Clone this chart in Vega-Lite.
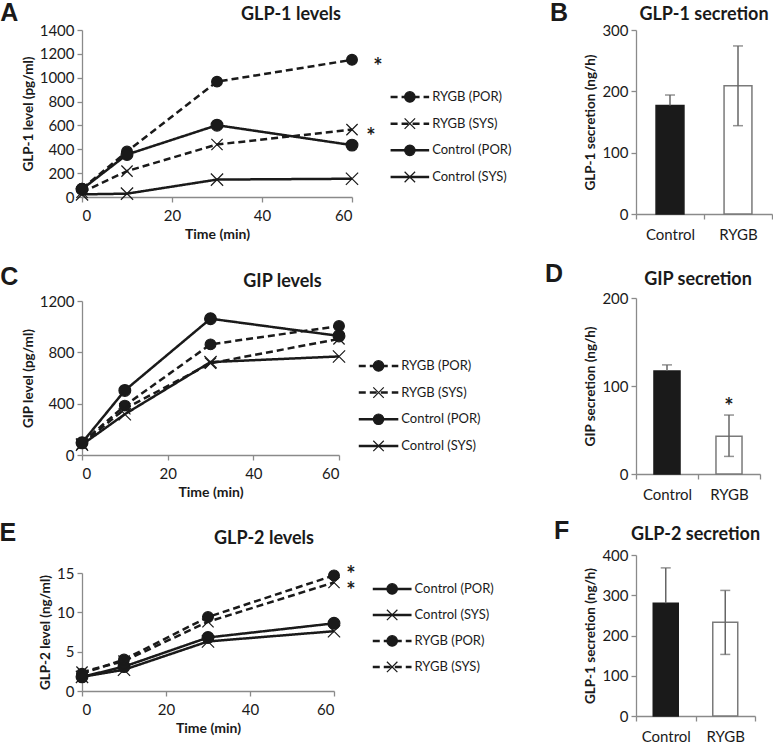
{
  "$schema": "https://vega.github.io/schema/vega-lite/v6.json",
  "padding": {"left": -1, "top": 1, "right": 0, "bottom": 0},
  "background": "white",
  "datasets": {
    "glp1": [
      {"series": "RYGB (POR)", "time": 0, "value": 70}, {"series": "RYGB (POR)", "time": 10, "value": 381}, {"series": "RYGB (POR)", "time": 30, "value": 967}, {"series": "RYGB (POR)", "time": 60, "value": 1150},
      {"series": "RYGB (SYS)", "time": 0, "value": 40}, {"series": "RYGB (SYS)", "time": 10, "value": 217}, {"series": "RYGB (SYS)", "time": 30, "value": 440}, {"series": "RYGB (SYS)", "time": 60, "value": 565},
      {"series": "Control (POR)", "time": 0, "value": 65}, {"series": "Control (POR)", "time": 10, "value": 356}, {"series": "Control (POR)", "time": 30, "value": 602}, {"series": "Control (POR)", "time": 60, "value": 435},
      {"series": "Control (SYS)", "time": 0, "value": 22}, {"series": "Control (SYS)", "time": 10, "value": 28}, {"series": "Control (SYS)", "time": 30, "value": 146}, {"series": "Control (SYS)", "time": 60, "value": 153}
    ],
    "gip": [
      {"series": "RYGB (POR)", "time": 0, "value": 95}, {"series": "RYGB (POR)", "time": 10, "value": 385}, {"series": "RYGB (POR)", "time": 30, "value": 862}, {"series": "RYGB (POR)", "time": 60, "value": 1005},
      {"series": "RYGB (SYS)", "time": 0, "value": 85}, {"series": "RYGB (SYS)", "time": 10, "value": 360}, {"series": "RYGB (SYS)", "time": 30, "value": 715}, {"series": "RYGB (SYS)", "time": 60, "value": 905},
      {"series": "Control (POR)", "time": 0, "value": 95}, {"series": "Control (POR)", "time": 10, "value": 503}, {"series": "Control (POR)", "time": 30, "value": 1062}, {"series": "Control (POR)", "time": 60, "value": 928},
      {"series": "Control (SYS)", "time": 0, "value": 80}, {"series": "Control (SYS)", "time": 10, "value": 318}, {"series": "Control (SYS)", "time": 30, "value": 724}, {"series": "Control (SYS)", "time": 60, "value": 768}
    ],
    "glp2": [
      {"series": "Control (POR)", "time": 0, "value": 1.8}, {"series": "Control (POR)", "time": 10, "value": 3.1}, {"series": "Control (POR)", "time": 30, "value": 6.8}, {"series": "Control (POR)", "time": 60, "value": 8.6},
      {"series": "Control (SYS)", "time": 0, "value": 1.8}, {"series": "Control (SYS)", "time": 10, "value": 2.7}, {"series": "Control (SYS)", "time": 30, "value": 6.3}, {"series": "Control (SYS)", "time": 60, "value": 7.6},
      {"series": "RYGB (POR)", "time": 0, "value": 2.2}, {"series": "RYGB (POR)", "time": 10, "value": 4.0}, {"series": "RYGB (POR)", "time": 30, "value": 9.4}, {"series": "RYGB (POR)", "time": 60, "value": 14.7},
      {"series": "RYGB (SYS)", "time": 0, "value": 2.4}, {"series": "RYGB (SYS)", "time": 10, "value": 3.8}, {"series": "RYGB (SYS)", "time": 30, "value": 8.8}, {"series": "RYGB (SYS)", "time": 60, "value": 13.8}
    ],
    "glp1sec": [
      {"group": "Control", "value": 177, "lo": 177, "hi": 194},
      {"group": "RYGB", "value": 209, "lo": 144, "hi": 274}
    ],
    "gipsec": [
      {"group": "Control", "value": 117, "lo": 117, "hi": 124},
      {"group": "RYGB", "value": 43, "lo": 20, "hi": 67}
    ],
    "glp2sec": [
      {"group": "Control", "value": 280, "lo": 280, "hi": 368},
      {"group": "RYGB", "value": 233, "lo": 153, "hi": 312}
    ]
  },
  "config": {
    "font": "Lato",
    "view": {"stroke": null},
    "axis": {"grid": false, "domainColor": "#8a8a8a", "tickColor": "#8a8a8a", "domainWidth": 1.3, "tickWidth": 1.3, "tickSize": 5, "labelFont": "Lato", "labelFontSize": 15, "labelColor": "#1a1a1a", "titleFont": "Lato", "titleFontSize": 13.5, "titleFontWeight": "bold", "titleColor": "#1a1a1a", "labelPadding": 3},
    "axisX": {"labelPadding": 6, "titleFontSize": 14},
    "title": {"font": "Lato", "fontSize": 18, "fontWeight": "bold", "color": "#1a1a1a"}
  },
  "hconcat": [
    {
      "vconcat": [
        {
          "title": {"text": "A", "anchor": "start", "frame": "bounds", "offset": -20, "dx": -21, "font": "Liberation Sans", "fontSize": 25, "fontWeight": "bold"},
          "vconcat": [
            {
              "title": {"text": "GLP-1 levels", "dx": 74, "offset": -1},
              "width": 270, "height": 167,
              "data": {"name": "glp1"},
              "resolve": {"scale": {"x": "independent", "y": "independent"}},
              "layer": [
                {
                  "encoding": {
                    "x": {"field": "time", "type": "quantitative", "scale": {"domain": [0, 60]}, "axis": {"values": [0, 20, 40, 60], "title": "Time (min)"}},
                    "y": {"field": "value", "type": "quantitative", "scale": {"domain": [0, 1400]}, "axis": {"values": [0, 200, 400, 600, 800, 1000, 1200, 1400], "format": "d", "title": "GLP-1 level (pg/ml)"}}
                  },
                  "layer": [
                    {"mark": {"type": "line", "color": "#1a1a1a", "strokeWidth": 2.5},
                     "encoding": {"detail": {"field": "series"}, "strokeDash": {"field": "series", "type": "nominal", "scale": {"domain": ["RYGB (POR)", "RYGB (SYS)", "Control (POR)", "Control (SYS)"], "range": [[7, 4], [7, 4], [1, 0], [1, 0]]}, "legend": null}}},
                    {"mark": {"type": "point", "fill": "#1a1a1a", "stroke": "#1a1a1a", "strokeWidth": 1.2, "opacity": 1},
                     "encoding": {"shape": {"field": "series", "type": "nominal", "scale": {"domain": ["RYGB (POR)", "RYGB (SYS)", "Control (POR)", "Control (SYS)"], "range": ["circle", "M-1,-1L1,1M-1,1L1,-1", "circle", "M-1,-1L1,1M-1,1L1,-1"]}, "legend": null},
                      "size": {"field": "series", "type": "nominal", "scale": {"domain": ["RYGB (POR)", "RYGB (SYS)", "Control (POR)", "Control (SYS)"], "range": [115, 150, 115, 150]}, "legend": null}}},
                    {"transform": [{"filter": "datum.time == 60 && datum.series == 'RYGB (POR)'"}],
                     "mark": {"type": "text", "fontSize": 22, "fontWeight": "bold", "dx": 26, "dy": 7, "color": "#1a1a1a"},
                     "encoding": {"text": {"value": "*"}}},
                    {"transform": [{"filter": "datum.time == 60 && datum.series == 'RYGB (SYS)'"}],
                     "mark": {"type": "text", "fontSize": 22, "fontWeight": "bold", "dx": 19, "dy": 7, "color": "#1a1a1a"},
                     "encoding": {"text": {"value": "*"}}}
                  ]
                },
                {
                  "transform": [{"filter": "datum.time == 0"}],
                  "encoding": {"y": {"field": "series", "type": "nominal", "scale": {"type": "band", "domain": ["", "RYGB (POR)", "RYGB (SYS)", "Control (POR)", "Control (SYS)"], "paddingInner": 0.745, "paddingOuter": 1, "align": 0.69}, "axis": null}},
                  "layer": [
                    {"mark": {"type": "rule", "color": "#1a1a1a", "strokeWidth": 2.5},
                     "encoding": {"x": {"datum": 0, "type": "quantitative", "scale": {"domain": [-7.61, -1.024]}, "axis": null}, "x2": {"datum": 1},
                      "strokeDash": {"field": "series", "type": "nominal", "legend": null}}},
                    {"mark": {"type": "point", "fill": "#1a1a1a", "stroke": "#1a1a1a", "strokeWidth": 1.2, "opacity": 1, "size": 110},
                     "encoding": {"x": {"datum": 0.5, "type": "quantitative"}, "shape": {"field": "series", "type": "nominal", "legend": null}}},
                    {"mark": {"type": "text", "align": "left", "baseline": "middle", "dx": 3, "fontSize": 13, "color": "#1a1a1a"},
                     "encoding": {"x": {"datum": 1, "type": "quantitative"}, "text": {"field": "series"}}}
                  ]
                }
              ]
            }
          ]
        },
        {
          "vconcat": [
            {
              "title": {"text": "C", "anchor": "start", "frame": "bounds", "offset": -17, "dx": -21, "font": "Liberation Sans", "fontSize": 25, "fontWeight": "bold"},
              "vconcat": [
                {
                  "title": {"text": "GIP levels", "dx": 72, "offset": 3},
                  "width": 257, "height": 154,
                  "data": {"name": "gip"},
                  "resolve": {"scale": {"x": "independent", "y": "independent"}},
                  "layer": [
                    {
                      "encoding": {
                        "x": {"field": "time", "type": "quantitative", "scale": {"domain": [0, 60]}, "axis": {"values": [0, 20, 40, 60], "title": "Time (min)"}},
                        "y": {"field": "value", "type": "quantitative", "scale": {"domain": [0, 1200]}, "axis": {"values": [0, 400, 800, 1200], "format": "d", "title": "GIP level (pg/ml)"}}
                      },
                      "layer": [
                        {"mark": {"type": "line", "color": "#1a1a1a", "strokeWidth": 2.5},
                         "encoding": {"detail": {"field": "series"}, "strokeDash": {"field": "series", "type": "nominal", "scale": {"domain": ["RYGB (POR)", "RYGB (SYS)", "Control (POR)", "Control (SYS)"], "range": [[7, 4], [7, 4], [1, 0], [1, 0]]}, "legend": null}}},
                        {"mark": {"type": "point", "fill": "#1a1a1a", "stroke": "#1a1a1a", "strokeWidth": 1.2, "opacity": 1},
                         "encoding": {"shape": {"field": "series", "type": "nominal", "scale": {"domain": ["RYGB (POR)", "RYGB (SYS)", "Control (POR)", "Control (SYS)"], "range": ["circle", "M-1,-1L1,1M-1,1L1,-1", "circle", "M-1,-1L1,1M-1,1L1,-1"]}, "legend": null},
                          "size": {"field": "series", "type": "nominal", "scale": {"domain": ["RYGB (POR)", "RYGB (SYS)", "Control (POR)", "Control (SYS)"], "range": [115, 150, 115, 150]}, "legend": null}}}
                      ]
                    },
                    {
                      "transform": [{"filter": "datum.time == 0"}],
                      "encoding": {"y": {"field": "series", "type": "nominal", "scale": {"type": "band", "domain": ["", "RYGB (POR)", "RYGB (SYS)", "Control (POR)", "Control (SYS)"], "paddingInner": 0.5, "paddingOuter": 0.635, "align": 0.93}, "axis": null}},
                      "layer": [
                        {"mark": {"type": "rule", "color": "#1a1a1a", "strokeWidth": 2.5},
                         "encoding": {"x": {"datum": 0, "type": "quantitative", "scale": {"domain": [-6.884, -0.907]}, "axis": null}, "x2": {"datum": 1},
                          "strokeDash": {"field": "series", "type": "nominal", "legend": null}}},
                        {"mark": {"type": "point", "fill": "#1a1a1a", "stroke": "#1a1a1a", "strokeWidth": 1.2, "opacity": 1, "size": 110},
                         "encoding": {"x": {"datum": 0.5, "type": "quantitative"}, "shape": {"field": "series", "type": "nominal", "legend": null}}},
                        {"mark": {"type": "text", "align": "left", "baseline": "middle", "dx": 3, "fontSize": 13, "color": "#1a1a1a"},
                         "encoding": {"x": {"datum": 1, "type": "quantitative"}, "text": {"field": "series"}}}
                      ]
                    }
                  ]
                }
              ]
            },
            {
              "title": {"text": "E", "anchor": "start", "frame": "bounds", "offset": -16, "dx": -39, "font": "Liberation Sans", "fontSize": 25, "fontWeight": "bold"},
              "vconcat": [
                {
                  "title": {"text": "GLP-2 levels", "dx": 56, "offset": 16},
                  "width": 252, "height": 118,
                  "data": {"name": "glp2"},
                  "resolve": {"scale": {"x": "independent", "y": "independent"}},
                  "layer": [
                    {
                      "encoding": {
                        "x": {"field": "time", "type": "quantitative", "scale": {"domain": [0, 60]}, "axis": {"values": [0, 20, 40, 60], "title": "Time (min)"}},
                        "y": {"field": "value", "type": "quantitative", "scale": {"domain": [0, 15]}, "axis": {"values": [0, 5, 10, 15], "title": "GLP-2 level (ng/ml)"}}
                      },
                      "layer": [
                        {"mark": {"type": "line", "color": "#1a1a1a", "strokeWidth": 2.5},
                         "encoding": {"detail": {"field": "series"}, "strokeDash": {"field": "series", "type": "nominal", "scale": {"domain": ["Control (POR)", "Control (SYS)", "RYGB (POR)", "RYGB (SYS)"], "range": [[1, 0], [1, 0], [7, 4], [7, 4]]}, "legend": null}}},
                        {"mark": {"type": "point", "fill": "#1a1a1a", "stroke": "#1a1a1a", "strokeWidth": 1.2, "opacity": 1},
                         "encoding": {"shape": {"field": "series", "type": "nominal", "scale": {"domain": ["Control (POR)", "Control (SYS)", "RYGB (POR)", "RYGB (SYS)"], "range": ["circle", "M-1,-1L1,1M-1,1L1,-1", "circle", "M-1,-1L1,1M-1,1L1,-1"]}, "legend": null},
                          "size": {"field": "series", "type": "nominal", "scale": {"domain": ["Control (POR)", "Control (SYS)", "RYGB (POR)", "RYGB (SYS)"], "range": [115, 150, 115, 150]}, "legend": null}}},
                        {"transform": [{"filter": "datum.time == 60 && datum.series == 'RYGB (POR)'"}],
                         "mark": {"type": "text", "fontSize": 22, "fontWeight": "bold", "dx": 17, "dy": 0, "color": "#1a1a1a"},
                         "encoding": {"text": {"value": "*"}}},
                        {"transform": [{"filter": "datum.time == 60 && datum.series == 'RYGB (SYS)'"}],
                         "mark": {"type": "text", "fontSize": 22, "fontWeight": "bold", "dx": 17, "dy": 9, "color": "#1a1a1a"},
                         "encoding": {"text": {"value": "*"}}}
                      ]
                    },
                    {
                      "transform": [{"filter": "datum.time == 0"}],
                      "encoding": {"y": {"field": "series", "type": "nominal", "scale": {"type": "band", "domain": ["Control (POR)", "Control (SYS)", "RYGB (POR)", "RYGB (SYS)"], "paddingInner": 0.5, "paddingOuter": 0.519, "align": 0.35}, "axis": null}},
                      "layer": [
                        {"mark": {"type": "rule", "color": "#1a1a1a", "strokeWidth": 2.5},
                         "encoding": {"x": {"datum": 0, "type": "quantitative", "scale": {"domain": [-7.22, -1.073]}, "axis": null}, "x2": {"datum": 1},
                          "strokeDash": {"field": "series", "type": "nominal", "legend": null}}},
                        {"mark": {"type": "point", "fill": "#1a1a1a", "stroke": "#1a1a1a", "strokeWidth": 1.2, "opacity": 1, "size": 110},
                         "encoding": {"x": {"datum": 0.5, "type": "quantitative"}, "shape": {"field": "series", "type": "nominal", "legend": null}}},
                        {"mark": {"type": "text", "align": "left", "baseline": "middle", "dx": 3, "fontSize": 13, "color": "#1a1a1a"},
                         "encoding": {"x": {"datum": 1, "type": "quantitative"}, "text": {"field": "series"}}}
                      ]
                    }
                  ]
                }
              ]
            }
          ],
          "spacing": 22
        }
      ],
      "spacing": 24
    },
    {
      "vconcat": [
        {
          "title": {"text": "B", "anchor": "start", "frame": "bounds", "offset": -20, "dx": -34, "font": "Liberation Sans", "fontSize": 25, "fontWeight": "bold"},
          "vconcat": [
            {
              "title": {"text": "GLP-1 secretion", "offset": -1},
              "width": 136, "height": 184,
              "data": {"name": "glp1sec"},
              "encoding": {"x": {"field": "group", "type": "nominal", "sort": ["Control", "RYGB"], "scale": {"paddingInner": 0, "paddingOuter": 0}, "axis": {"title": null, "labelAngle": 0, "tickBand": "extent", "labelPadding": 8}}},
              "layer": [
                {"mark": {"type": "bar", "width": {"band": 0.41}, "strokeWidth": 1.5},
                 "encoding": {"y": {"field": "value", "type": "quantitative", "scale": {"domain": [0, 300]}, "axis": {"values": [0, 100, 200, 300], "title": "GLP-1 secretion (ng/h)"}},
                  "fill": {"field": "group", "type": "nominal", "scale": {"domain": ["Control", "RYGB"], "range": ["#1a1a1a", "#ffffff"]}, "legend": null},
                  "stroke": {"field": "group", "type": "nominal", "scale": {"domain": ["Control", "RYGB"], "range": ["#1a1a1a", "#7a7a7a"]}, "legend": null}}},
                {"mark": {"type": "rule", "color": "#666666", "strokeWidth": 1.5}, "encoding": {"y": {"field": "lo", "type": "quantitative"}, "y2": {"field": "hi"}}},
                {"mark": {"type": "tick", "color": "#666666", "thickness": 1.5, "size": 10}, "encoding": {"y": {"field": "hi", "type": "quantitative"}}},
                {"transform": [{"filter": "datum.group == 'RYGB'"}], "mark": {"type": "tick", "color": "#666666", "thickness": 1.5, "size": 10}, "encoding": {"y": {"field": "lo", "type": "quantitative"}}}
              ]
            }
          ]
        },
        {
          "vconcat": [
            {
              "title": {"text": "D", "anchor": "start", "frame": "bounds", "offset": -16, "dx": -39, "font": "Liberation Sans", "fontSize": 25, "fontWeight": "bold"},
              "vconcat": [
                {
                  "title": {"text": "GIP secretion", "offset": 2},
                  "width": 124, "height": 176,
                  "data": {"name": "gipsec"},
                  "encoding": {"x": {"field": "group", "type": "nominal", "sort": ["Control", "RYGB"], "scale": {"paddingInner": 0, "paddingOuter": 0}, "axis": {"title": null, "labelAngle": 0, "tickBand": "extent", "labelPadding": 8}}},
                  "layer": [
                    {"mark": {"type": "bar", "width": {"band": 0.42}, "strokeWidth": 1.5},
                     "encoding": {"y": {"field": "value", "type": "quantitative", "scale": {"domain": [0, 200]}, "axis": {"values": [0, 100, 200], "title": "GIP secretion (ng/h)"}},
                      "fill": {"field": "group", "type": "nominal", "scale": {"domain": ["Control", "RYGB"], "range": ["#1a1a1a", "#ffffff"]}, "legend": null},
                      "stroke": {"field": "group", "type": "nominal", "scale": {"domain": ["Control", "RYGB"], "range": ["#1a1a1a", "#7a7a7a"]}, "legend": null}}},
                    {"mark": {"type": "rule", "color": "#666666", "strokeWidth": 1.5}, "encoding": {"y": {"field": "lo", "type": "quantitative"}, "y2": {"field": "hi"}}},
                    {"mark": {"type": "tick", "color": "#666666", "thickness": 1.5, "size": 10}, "encoding": {"y": {"field": "hi", "type": "quantitative"}}},
                    {"transform": [{"filter": "datum.group == 'RYGB'"}], "mark": {"type": "tick", "color": "#666666", "thickness": 1.5, "size": 10}, "encoding": {"y": {"field": "lo", "type": "quantitative"}}},
                    {"transform": [{"filter": "datum.group == 'RYGB'"}], "mark": {"type": "text", "fontSize": 22, "fontWeight": "bold", "dy": -8, "color": "#1a1a1a"}, "encoding": {"y": {"field": "hi", "type": "quantitative"}, "text": {"value": "*"}}}
                  ]
                }
              ]
            },
            {
              "title": {"text": "F", "anchor": "start", "frame": "bounds", "offset": -18, "dx": -30, "font": "Liberation Sans", "fontSize": 25, "fontWeight": "bold"},
              "vconcat": [
                {
                  "title": {"text": "GLP-2 secretion", "offset": 4},
                  "width": 119, "height": 161,
                  "data": {"name": "glp2sec"},
                  "encoding": {"x": {"field": "group", "type": "nominal", "sort": ["Control", "RYGB"], "scale": {"paddingInner": 0, "paddingOuter": 0}, "axis": {"title": null, "labelAngle": 0, "tickBand": "extent", "labelPadding": 8}}},
                  "layer": [
                    {"mark": {"type": "bar", "width": {"band": 0.42}, "strokeWidth": 1.5},
                     "encoding": {"y": {"field": "value", "type": "quantitative", "scale": {"domain": [0, 400]}, "axis": {"values": [0, 100, 200, 300, 400], "title": "GLP-1 secretion (ng/h)"}},
                      "fill": {"field": "group", "type": "nominal", "scale": {"domain": ["Control", "RYGB"], "range": ["#1a1a1a", "#ffffff"]}, "legend": null},
                      "stroke": {"field": "group", "type": "nominal", "scale": {"domain": ["Control", "RYGB"], "range": ["#1a1a1a", "#7a7a7a"]}, "legend": null}}},
                    {"mark": {"type": "rule", "color": "#666666", "strokeWidth": 1.5}, "encoding": {"y": {"field": "lo", "type": "quantitative"}, "y2": {"field": "hi"}}},
                    {"mark": {"type": "tick", "color": "#666666", "thickness": 1.5, "size": 10}, "encoding": {"y": {"field": "hi", "type": "quantitative"}}},
                    {"transform": [{"filter": "datum.group == 'RYGB'"}], "mark": {"type": "tick", "color": "#666666", "thickness": 1.5, "size": 10}, "encoding": {"y": {"field": "lo", "type": "quantitative"}}}
                  ]
                }
              ]
            }
          ],
          "spacing": 17
        }
      ],
      "spacing": 20
    }
  ],
  "spacing": 32
}
